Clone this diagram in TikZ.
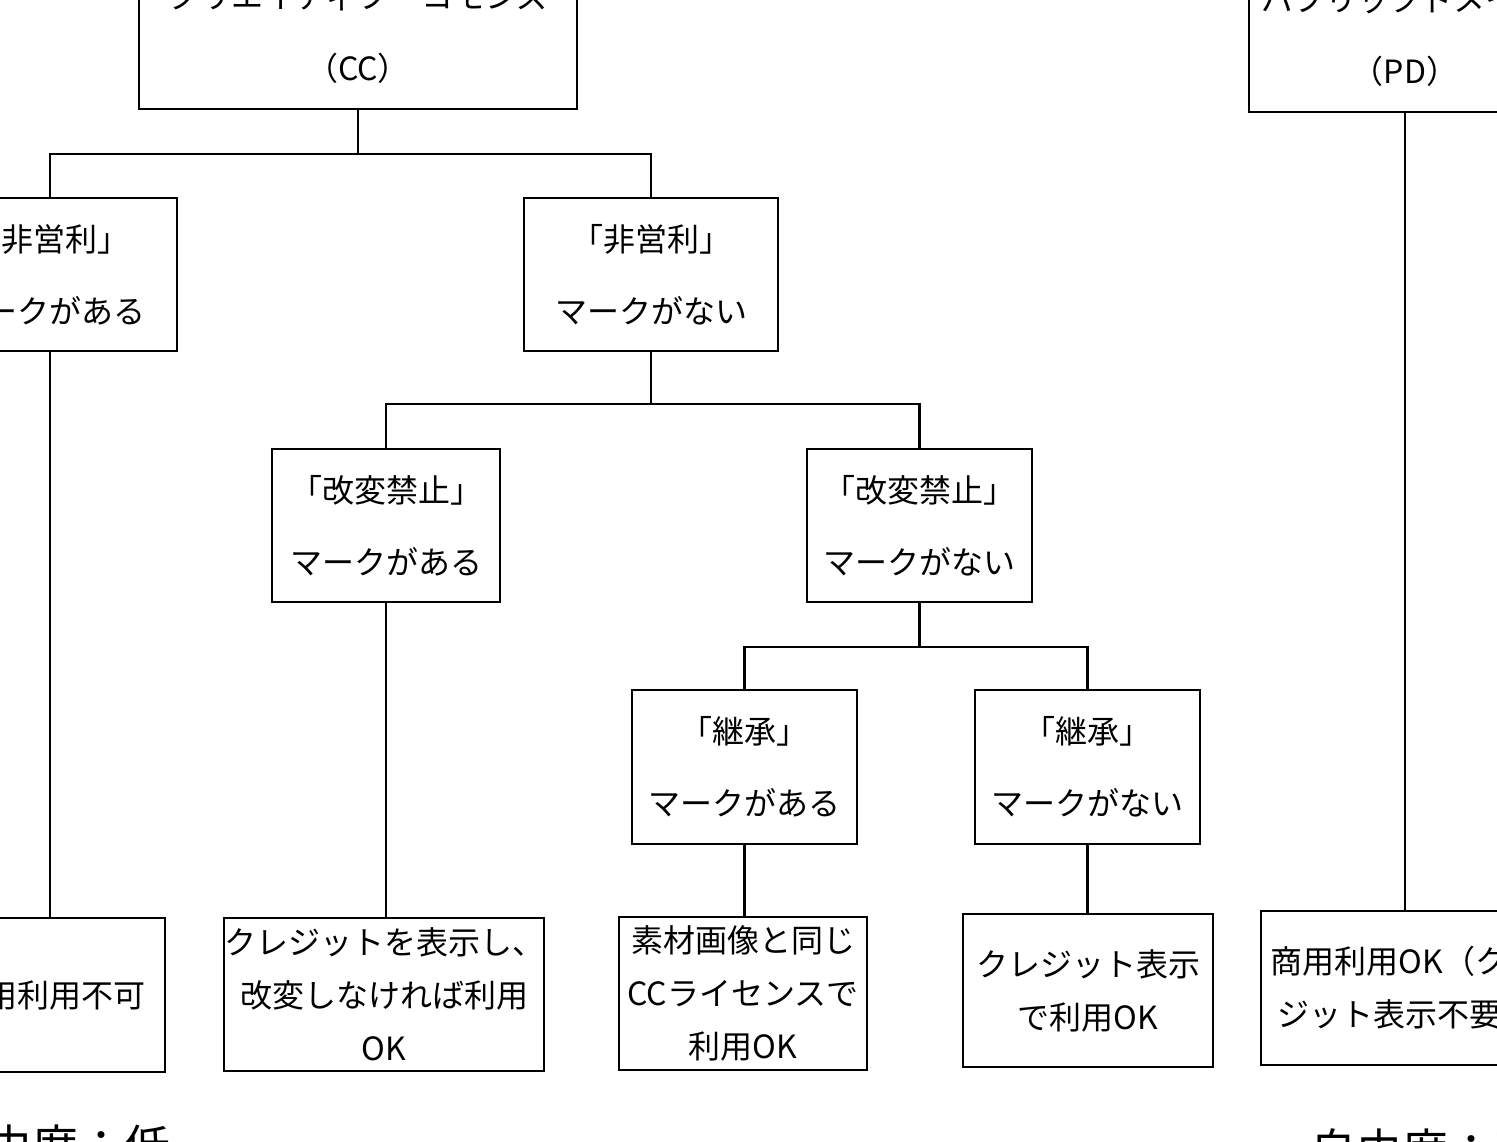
\documentclass[tikz,border=0pt]{standalone}
\usepackage{fontspec}
\newfontfamily\jp{Noto Sans CJK JP}
\begin{document}
\begin{tikzpicture}[x=1pt,y=-1pt,
  box/.style={draw=black,line width=2.6pt,fill=white,inner sep=0pt,align=center,
    font=\jp\fontsize{32}{72}\selectfont},
  leaf/.style={box,font=\jp\fontsize{32}{53}\selectfont},
  conn/.style={draw=black,line width=2.6pt},
  foot/.style={inner sep=0pt,font=\jp\fontsize{46}{50}\selectfont}]
\useasboundingbox (0,0) rectangle (1497,1141);
\clip (0,0) rectangle (1497,1141);
\fill[white] (0,0) rectangle (1497,1141);
% top nodes
\node[box,minimum width=438pt,minimum height=154pt] (cc) at (358,32) {クリエイティブ・コモンズ\\（CC）};
\node[box,minimum width=312pt,minimum height=154pt] (pd) at (1405,35) {パブリックドメイン\\（PD）};
% level 2
\node[box,minimum width=254pt,minimum height=153pt] (a) at (50,274.5) {「非営利」\\マークがある};
\node[box,minimum width=254pt,minimum height=153pt] (b) at (651,274.5) {「非営利」\\マークがない};
% level 3
\node[box,minimum width=228pt,minimum height=153pt] (c) at (386,525.5) {「改変禁止」\\マークがある};
\node[box,minimum width=225pt,minimum height=153pt] (d) at (919.5,525.5) {「改変禁止」\\マークがない};
% level 4
\node[box,minimum width=225pt,minimum height=154pt] (e) at (744.5,767) {「継承」\\マークがある};
\node[box,minimum width=225pt,minimum height=154pt] (f) at (1087.5,767) {「継承」\\マークがない};
% leaves
\node[leaf,minimum width=230pt,minimum height=154pt] (la) at (50,995) {商用利用不可};
\node[leaf,minimum width=320pt,minimum height=153pt] (lc) at (384,994.5) {クレジットを表示し、\\改変しなければ利用\\OK};
\node[leaf,minimum width=248pt,minimum height=153pt] (le) at (743,993.5) {素材画像と同じ\\CCライセンスで\\利用OK};
\node[leaf,minimum width=250pt,minimum height=153pt] (lf) at (1088,990.5) {クレジット表示\\で利用OK};
\node[leaf,minimum width=288pt,minimum height=154pt] (lp) at (1405,988) {商用利用OK（クレ\\ジット表示不要）};
% footer labels
\node[foot] (lo) at (56,1146) {自由度：低};
\node[foot] (hi) at (1425,1150) {自由度：高};
% connectors
\draw[conn] (cc.south) -- (cc.south |- 0,154) -| (a.north);
\draw[conn] (cc.south |- 0,154) -| (b.north);
\draw[conn] (b.south) -- (b.south |- 0,404) -| (c.north);
\draw[conn] (b.south |- 0,404) -| (d.north);
\draw[conn] (d.south) -- (d.south |- 0,647) -| (e.north);
\draw[conn] (d.south |- 0,647) -| (f.north);
\draw[conn] (a.south) -- (la.north);
\draw[conn] (c.south) -- (c.south |- lc.north);
\draw[conn] (e.south) -- (e.south |- le.north);
\draw[conn] (f.south) -- (f.south |- lf.north);
\draw[conn] (pd.south) -- (lp.north);
\end{tikzpicture}
\end{document}
